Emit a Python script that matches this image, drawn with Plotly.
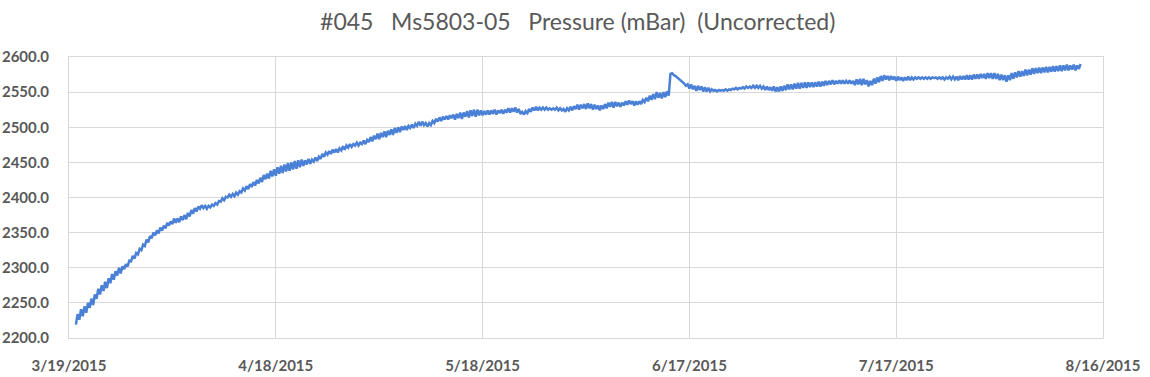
import pandas as pd
import plotly.graph_objects as go

title_text = "#045\u00a0\u00a0\u00a0Ms5803-05\u00a0\u00a0\u00a0Pressure (mBar)\u00a0\u00a0(Uncorrected)"

start_time = "2015-03-20 00:00"
sample_step = "6h"

# pressure readings (mBar), one row per day, 6-hourly samples
pressure = [
    2219, 2234, 2226, 2241,
    2231, 2245, 2236, 2250,
    2243, 2256, 2247, 2262,
    2256, 2270, 2262, 2275,
    2267, 2280, 2271, 2285,
    2278, 2291, 2283, 2295,
    2289, 2300, 2292, 2302,
    2298, 2305, 2302, 2310,
    2309, 2317, 2313, 2321,
    2319, 2327, 2325, 2333,
    2331, 2340, 2336, 2345,
    2342, 2350, 2346, 2353,
    2349, 2357, 2353, 2360,
    2356, 2364, 2360, 2366,
    2362, 2370, 2364, 2370,
    2365, 2373, 2368, 2375,
    2369, 2378, 2373, 2382,
    2377, 2385, 2380, 2387,
    2384, 2389, 2385, 2388,
    2384, 2388, 2386, 2390,
    2388, 2392, 2390, 2395,
    2394, 2399, 2396, 2401,
    2400, 2404, 2401, 2405,
    2402, 2407, 2404, 2409,
    2407, 2413, 2410, 2416,
    2412, 2419, 2415, 2422,
    2417, 2425, 2420, 2428,
    2422, 2432, 2426, 2434,
    2427, 2438, 2430, 2440,
    2431, 2443, 2434, 2445,
    2435, 2447, 2437, 2449,
    2438, 2450, 2440, 2452,
    2441, 2453, 2443, 2454,
    2445, 2453, 2447, 2455,
    2448, 2454, 2451, 2457,
    2452, 2458, 2455, 2462,
    2458, 2464, 2461, 2466,
    2462, 2468, 2464, 2469,
    2464, 2470, 2467, 2473,
    2468, 2474, 2471, 2476,
    2472, 2476, 2474, 2478,
    2474, 2478, 2476, 2481,
    2476, 2482, 2479, 2486,
    2480, 2488, 2483, 2491,
    2483, 2492, 2486, 2494,
    2486, 2495, 2489, 2497,
    2489, 2499, 2492, 2500,
    2493, 2501, 2496, 2502,
    2496, 2502, 2499, 2504,
    2499, 2505, 2502, 2508,
    2502, 2508, 2503, 2506,
    2501, 2506, 2503, 2509,
    2506, 2512, 2508, 2514,
    2509, 2515, 2511, 2516,
    2511, 2517, 2513, 2518,
    2511, 2519, 2513, 2521,
    2512, 2521, 2515, 2523,
    2514, 2524, 2516, 2525,
    2515, 2525, 2517, 2524,
    2517, 2523, 2518, 2524,
    2518, 2524, 2519, 2525,
    2518, 2524, 2520, 2525,
    2519, 2525, 2521, 2527,
    2521, 2527, 2522, 2528,
    2521, 2526, 2519, 2522,
    2518, 2523, 2520, 2526,
    2522, 2528, 2524, 2529,
    2524, 2528, 2525, 2528,
    2525, 2528, 2525, 2527,
    2525, 2527, 2525, 2528,
    2524, 2527, 2524, 2526,
    2522, 2527, 2524, 2529,
    2524, 2530, 2526, 2532,
    2525, 2532, 2527, 2533,
    2526, 2534, 2527, 2533,
    2525, 2532, 2526, 2531,
    2524, 2531, 2526, 2533,
    2527, 2535, 2529, 2536,
    2528, 2536, 2530, 2535,
    2529, 2535, 2531, 2537,
    2532, 2538, 2533, 2537,
    2531, 2537, 2532, 2537,
    2533, 2539, 2536, 2542,
    2537, 2545, 2539, 2547,
    2540, 2550, 2542, 2549,
    2541, 2550, 2543, 2551,
    2545, 2576, 2577, 2574,
    2573, 2571, 2569, 2567,
    2564, 2562, 2559, 2561,
    2555, 2561, 2554, 2559,
    2552, 2559, 2553, 2558,
    2551, 2557, 2551, 2556,
    2551, 2554, 2552, 2553,
    2551, 2553, 2552, 2553,
    2552, 2554, 2552, 2554,
    2553, 2555, 2554, 2556,
    2554, 2556, 2555, 2557,
    2555, 2558, 2556, 2558,
    2556, 2559, 2556, 2559,
    2556, 2559, 2555, 2558,
    2553, 2558, 2553, 2557,
    2552, 2558, 2551, 2557,
    2551, 2558, 2552, 2559,
    2553, 2561, 2554, 2561,
    2554, 2562, 2555, 2563,
    2555, 2563, 2556, 2564,
    2556, 2564, 2557, 2564,
    2557, 2564, 2558, 2565,
    2558, 2565, 2559, 2566,
    2560, 2566, 2561, 2567,
    2561, 2566, 2562, 2567,
    2562, 2567, 2562, 2566,
    2562, 2567, 2562, 2566,
    2560, 2568, 2561, 2569,
    2560, 2569, 2561, 2567,
    2558, 2566, 2560, 2569,
    2562, 2571, 2564, 2573,
    2566, 2574, 2568, 2573,
    2567, 2573, 2568, 2572,
    2566, 2572, 2567, 2571,
    2566, 2571, 2567, 2572,
    2567, 2571, 2568, 2571,
    2569, 2571, 2569, 2571,
    2569, 2571, 2569, 2571,
    2569, 2571, 2570, 2571,
    2569, 2571, 2569, 2571,
    2568, 2571, 2569, 2572,
    2568, 2572, 2568, 2572,
    2567, 2573, 2568, 2573,
    2568, 2574, 2568, 2574,
    2568, 2575, 2569, 2575,
    2569, 2576, 2570, 2576,
    2569, 2577, 2570, 2577,
    2569, 2577, 2569, 2576,
    2567, 2575, 2567, 2574,
    2565, 2574, 2567, 2577,
    2569, 2578, 2571, 2580,
    2572, 2580, 2573, 2582,
    2574, 2582, 2575, 2584,
    2576, 2584, 2577, 2585,
    2577, 2585, 2578, 2586,
    2578, 2586, 2579, 2587,
    2579, 2587, 2580, 2588,
    2580, 2588, 2581, 2589,
    2581, 2588, 2582, 2589,
    2581, 2588, 2583, 2590,
]

x_tick_dates = ["2015-03-19", "2015-04-18", "2015-05-18", "2015-06-17", "2015-07-17", "2015-08-16"]
x_tick_labels = ["3/19/2015", "4/18/2015", "5/18/2015", "6/17/2015", "7/17/2015", "8/16/2015"]
y_ticks = [2200, 2250, 2300, 2350, 2400, 2450, 2500, 2550, 2600]

times = pd.date_range(start_time, periods=len(pressure), freq=sample_step)

fig = go.Figure()
fig.add_trace(go.Scatter(
    x=times, y=pressure, mode="lines",
    line=dict(color="#4a80d6", width=2.5),
    hoverinfo="skip", showlegend=False,
))

font_family = "Lato, Open Sans, sans-serif"
grid_col = "#d9d9d9"

fig.update_layout(
    width=1150, height=377,
    margin=dict(l=69, r=47, t=57, b=39, autoexpand=False),
    paper_bgcolor="white", plot_bgcolor="white",
    title=dict(text=title_text, x=0.492, xanchor="center", xref="paper",
               y=0.942, yanchor="middle", yref="container", automargin=False,
               font=dict(family=font_family, size=23, color="#595959")),
    xaxis=dict(
        type="date", range=[x_tick_dates[0], x_tick_dates[-1]],
        tickvals=x_tick_dates, ticktext=x_tick_labels,
        showgrid=True, gridcolor=grid_col, gridwidth=1,
        showline=True, linecolor=grid_col, linewidth=1, mirror=True,
        ticks="", ticklabelstandoff=14, automargin=False,
        tickfont=dict(family=font_family, size=15, color="#595959", weight="bold"),
        zeroline=False,
    ),
    yaxis=dict(
        range=[y_ticks[0], y_ticks[-1]], tickvals=y_ticks, tickformat=".1f",
        showgrid=True, gridcolor=grid_col, gridwidth=1,
        showline=True, linecolor=grid_col, linewidth=1, mirror=True,
        ticks="", ticklabelstandoff=16, automargin=False,
        tickfont=dict(family=font_family, size=15, color="#595959", weight="bold"),
        zeroline=False,
    ),
)

fig.write_html(
    "out.html",
    config={"displayModeBar": False},
    post_script="document.body.style.margin='0';document.body.style.overflow='hidden';",
)
